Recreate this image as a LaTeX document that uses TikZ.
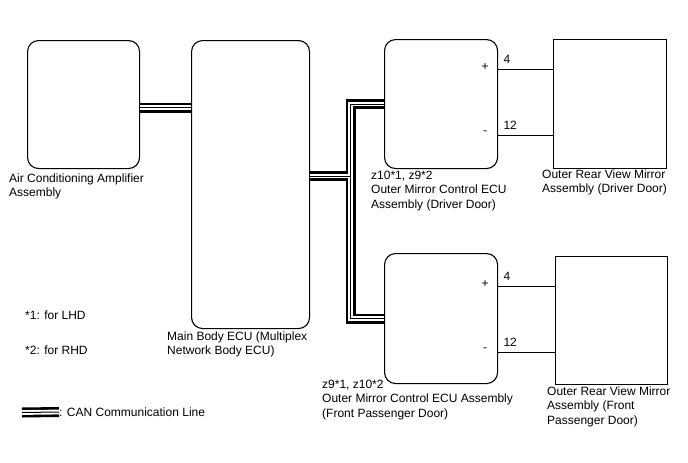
\documentclass[tikz,border=0pt]{standalone}
\usepackage{fontspec}
\setmainfont{Liberation Sans}
\usetikzlibrary{calc}

\begin{document}
\begin{tikzpicture}[x=1pt,y=-1pt,
    ecubox/.style={draw,line width=1.1pt,rounded corners=11pt,anchor=north west,inner sep=0pt},
    mirrorbox/.style={draw,line width=1.1pt,anchor=north west,inner sep=0pt},
    lbl/.style={anchor=north west,inner sep=0pt,align=left,font=\fontsize{12}{14.5}\selectfont},
    pin/.style={inner sep=0pt,font=\fontsize{12}{14.5}\selectfont},
    wire/.style={line width=0.9pt}]
\useasboundingbox (0,0) rectangle (688,463);

% Boxes
\node[ecubox,minimum width=112pt,minimum height=128pt] (ac) at (27,40) {};
\node[ecubox,minimum width=118pt,minimum height=288pt] (main) at (191,40) {};
\node[ecubox,minimum width=113pt,minimum height=129pt] (drv) at (384,39) {};
\node[mirrorbox,minimum width=113pt,minimum height=129pt] (drvm) at (553,39) {};
\node[ecubox,minimum width=113pt,minimum height=130pt] (pas) at (384,253) {};
\node[mirrorbox,minimum width=112pt,minimum height=128pt] (pasm) at (555,256) {};

% Labels
\node[lbl] (aclbl) at (9,173.5) {Air Conditioning Amplifier\\Assembly};
\node[lbl] (mainlbl) at (167,331.5) {Main Body ECU (Multiplex\\Network Body ECU)};
\node[lbl] (drvlbl) at (371,170.5) {z10*1, z9*2\\Outer Mirror Control ECU\\Assembly (Driver Door)};
\node[lbl] (drvmlbl) at (542,169.5) {Outer Rear View Mirror\\Assembly (Driver Door)};
\node[lbl] (paslbl) at (322,379.5) {z9*1, z10*2\\Outer Mirror Control ECU Assembly\\(Front Passenger Door)};
\node[lbl] (pasmlbl) at (547,386.5) {Outer Rear View Mirror\\Assembly (Front\\Passenger Door)};
\node[lbl,anchor=west] (note1) at (25,315) {*1: for LHD};
\node[lbl,anchor=west] (note2) at (25,350) {*2: for RHD};
\node[lbl,anchor=west] (legtxt) at (59,412) {: CAN Communication Line};
\coordinate (canleg) at (22,412.5);

% Pin wires
\draw[wire] ([yshift=34.5pt]drv.east) -- ([yshift=34.5pt]drv.east -| drvm.west)
    node[pin,pos=0,xshift=-13pt,yshift=2.5pt] {+}
    node[pin,pos=0,anchor=base west,xshift=5pt,yshift=5.7pt] {4};
\draw[wire] ([yshift=-31.5pt]drv.east) -- ([yshift=-31.5pt]drv.east -| drvm.west)
    node[pin,pos=0,xshift=-13pt,yshift=2.5pt] {-}
    node[pin,pos=0,anchor=base west,xshift=5pt,yshift=5.7pt] {12};
\draw[wire] ([yshift=32pt]pas.east) -- ([yshift=32pt]pas.east -| pasm.west)
    node[pin,pos=0,xshift=-13pt,yshift=2.5pt] {+}
    node[pin,pos=0,anchor=base west,xshift=5pt,yshift=5.7pt] {4};
\draw[wire] ([yshift=-34pt]pas.east) -- ([yshift=-34pt]pas.east -| pasm.west)
    node[pin,pos=0,xshift=-13pt,yshift=2.5pt] {-}
    node[pin,pos=0,anchor=base west,xshift=5pt,yshift=5.7pt] {12};

% CAN communication lines
\coordinate (jn) at (350.5,176);
\foreach \lw/\lc in {10pt/black,4.8pt/white,1pt/black} {
    \draw[line width=\lw,\lc] ([yshift=-3pt]ac.east) -- ([yshift=-3pt]ac.east -| main.west);
    \draw[line width=\lw,\lc] (jn -| main.east) -- (jn) |- (drv.west);
    \draw[line width=\lw,\lc] (jn -| main.east) -- (jn) |- (pas.west);
    \draw[line width=\lw,\lc] (canleg) -- (legtxt.west);
}
\end{tikzpicture}
\end{document}
